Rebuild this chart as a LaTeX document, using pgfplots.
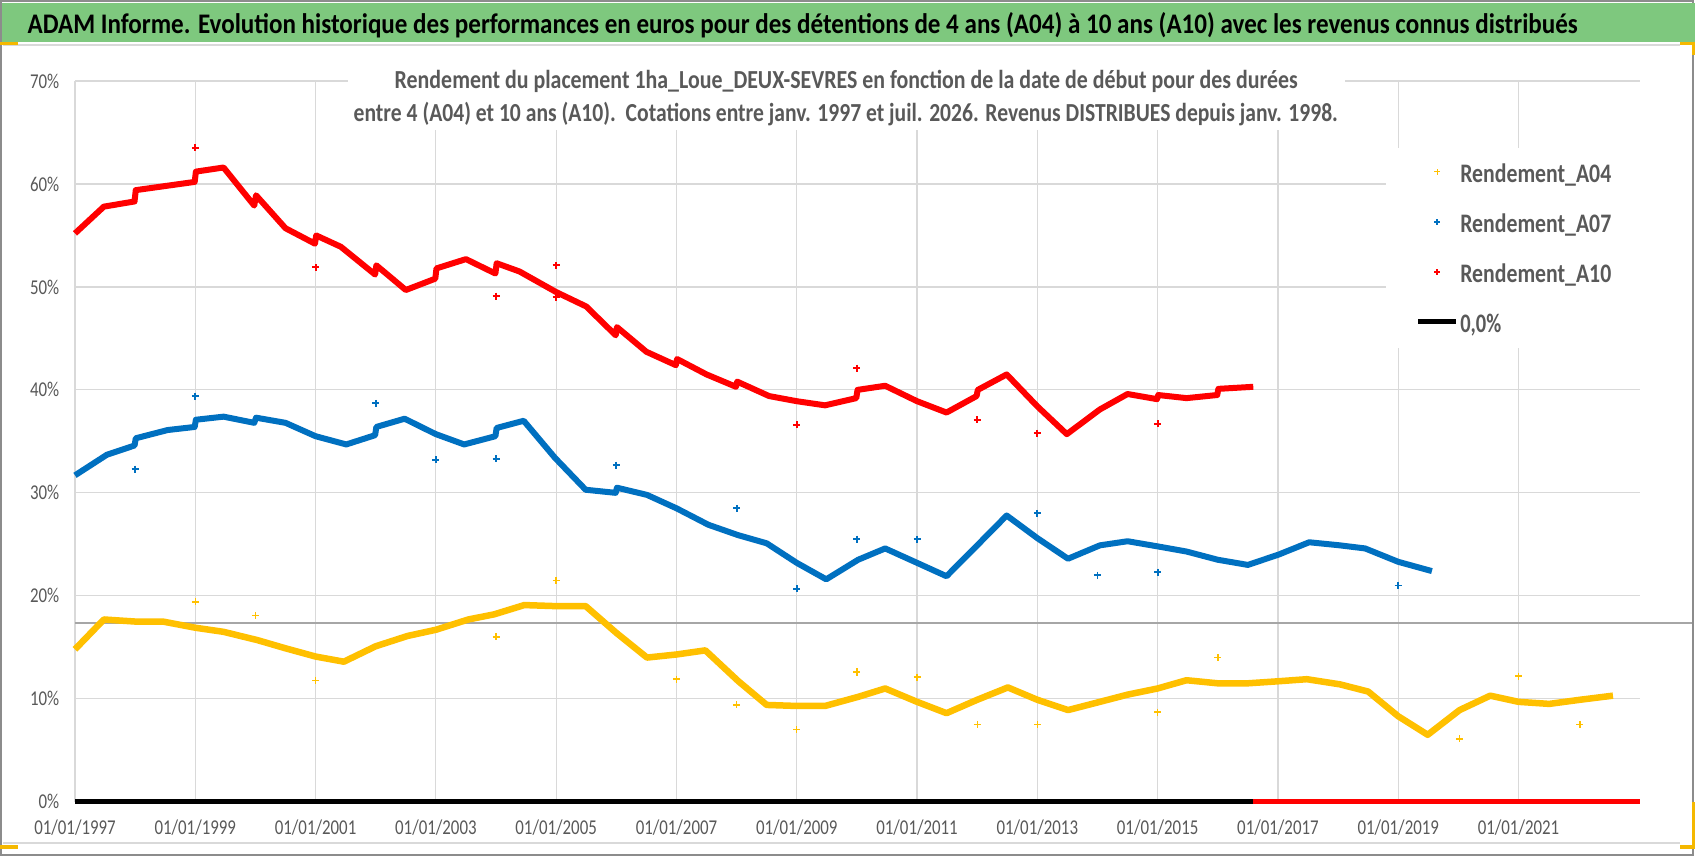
\documentclass[border=0pt]{standalone}
\usepackage{pgfplots}
\pgfplotsset{compat=1.18}
\usepackage{fontspec}
\setmainfont{Carlito}[FakeStretch=0.8]
\usepackage{graphicx}
\definecolor{cA04}{HTML}{FFC000}
\definecolor{cA07}{HTML}{0070C0}
\definecolor{cA10}{HTML}{FF0000}
\definecolor{txtgray}{HTML}{595959}
\definecolor{gridgray}{HTML}{D9D9D9}
\definecolor{banner}{RGB}{126,200,126}
\definecolor{framec}{HTML}{8C8C8C}
\definecolor{handle}{HTML}{F5B800}
\definecolor{midgray}{HTML}{A6A6A6}
\begin{document}
\begin{tikzpicture}
\path[fill=white,use as bounding box] (0,0) rectangle (169.8mm,85.6mm);
\draw[framec,line width=0.2mm] (0.1mm,0.1mm) rectangle (169.25mm,85.5mm);
\fill[banner] (0.2mm,81.4mm) rectangle (169.5mm,85.3mm);
\draw[gridgray,line width=0.15mm] (0.3mm,81.1mm) -- (168mm,81.1mm);
\draw[gridgray,line width=0.15mm] (0.3mm,1.3mm) -- (168mm,1.3mm);
% selection handles
\fill[handle] (0mm,81.15mm) rectangle (1.8mm,81.45mm);
\fill[handle] (168mm,81.1mm) rectangle (169.5mm,81.4mm);
\fill[handle] (169.2mm,80.1mm) rectangle (169.5mm,81.4mm);
\fill[handle] (0mm,0.7mm) rectangle (1.8mm,1.1mm);
\fill[handle] (168mm,0.7mm) rectangle (169.5mm,1.1mm);
\fill[handle] (169.2mm,0.7mm) rectangle (169.5mm,5.4mm);

\begin{axis}[
  at={(7.5mm,5.43mm)}, anchor=south west,
  scale only axis, width=156.5mm, height=72.07mm,
  xmin=1997, xmax=2023.02, ymin=0, ymax=70,
  clip=false,
  axis line style={draw=none}, major tick length=0pt,
  grid=major, major grid style={gridgray, line width=0.12mm},
  xtick={1997,1999,...,2021},
  xticklabels={01/01/1997,01/01/1999,01/01/2001,01/01/2003,01/01/2005,01/01/2007,01/01/2009,01/01/2011,01/01/2013,01/01/2015,01/01/2017,01/01/2019,01/01/2021},
  ytick={0,10,...,70},
  yticklabels={0\%,10\%,20\%,30\%,40\%,50\%,60\%,70\%},
  /pgf/number format/assume math mode=true,
  tick label style={font=\fontsize{6pt}{7pt}\selectfont, text=txtgray, inner sep=0pt},
  xticklabel style={anchor=base, yshift=-3.3mm},
  yticklabel style={anchor=east, xshift=-1.5mm},
  legend style={at={(0.8371,0.9084)}, anchor=north west, draw=none, fill=white,
    inner xsep=3mm, inner ysep=0pt, row sep=0pt,
    font=\fontsize{7.6pt}{9pt}\selectfont\bfseries, text=txtgray,
    nodes={inner sep=0pt, text height=3.5mm, text depth=1.5mm}},
  legend cell align=left,
]
\draw[midgray, line width=0.2mm] (axis cs:1997,17.39) -- (axis cs:2023.89,17.39);

% Rendement_A04
\addplot[forget plot, cA04, line width=0.65mm, line join=round] coordinates {
(1997.0,14.8) (1997.48,17.7) (1998.0,17.5) (1998.46,17.5) (1999.0,16.9) (1999.47,16.5)
(2000.03,15.7) (2000.5,14.9) (2001.0,14.1) (2001.47,13.6) (2002.0,15.1) (2002.53,16.1)
(2003.0,16.7) (2003.54,17.7) (2003.97,18.2) (2004.47,19.1) (2004.98,19.0) (2005.49,19.0)
(2006.0,16.4) (2006.51,14.0) (2007.0,14.3) (2007.48,14.7) (2008.03,11.7) (2008.5,9.4)
(2009.0,9.3) (2009.47,9.3) (2010.03,10.2) (2010.47,11.0) (2011.0,9.7) (2011.49,8.6)
(2012.0,9.9) (2012.51,11.1) (2013.0,9.9) (2013.51,8.9) (2014.04,9.7) (2014.5,10.4)
(2015.0,11.0) (2015.48,11.8) (2016.0,11.5) (2016.5,11.5) (2017.01,11.7) (2017.48,11.9)
(2018.03,11.4) (2018.5,10.7) (2019.0,8.3) (2019.49,6.5) (2020.02,8.9) (2020.53,10.3)
(2021.0,9.7) (2021.51,9.5) (2022.02,9.9) (2022.57,10.3)
};
\addplot[forget plot, only marks, mark=+, mark size=1pt, cA04, mark options={line width=0.4pt}] coordinates {
(1999.0,19.4) (2000.0,18.1) (2001.0,11.8) (2004.0,16.0) (2005.0,21.5) (2007.0,11.9)
(2008.0,9.4) (2009.0,7.0) (2010.0,12.6) (2011.0,12.1) (2012.0,7.5) (2013.0,7.5)
(2015.0,8.7) (2016.0,14.0) (2020.02,6.1) (2021.0,12.2) (2022.02,7.5)
};

% Rendement_A07
\addplot[forget plot, cA07, line width=0.6mm, line join=round] coordinates {
(1997.0,31.7) (1997.53,33.7) (1997.99,34.6) (1998.01,35.3) (1998.54,36.1) (1998.99,36.4)
(1999.01,37.1) (1999.47,37.4) (1999.98,36.8) (2000.01,37.3) (2000.5,36.8) (2001.0,35.5)
(2001.51,34.7) (2001.99,35.6) (2002.01,36.4) (2002.48,37.2) (2003.0,35.7) (2003.47,34.7)
(2003.99,35.5) (2004.01,36.3) (2004.46,37.0) (2004.98,33.4) (2005.49,30.3) (2005.99,30.0)
(2006.01,30.5) (2006.51,29.8) (2007.0,28.5) (2007.53,26.9) (2008.02,25.9) (2008.5,25.1)
(2009.0,23.2) (2009.49,21.6) (2010.02,23.5) (2010.47,24.6) (2011.0,23.2) (2011.49,21.9)
(2012.0,24.9) (2012.49,27.8) (2013.0,25.6) (2013.51,23.6) (2014.04,24.9) (2014.5,25.3)
(2015.0,24.8) (2015.48,24.3) (2016.0,23.5) (2016.5,23.0) (2017.01,24.0) (2017.52,25.2)
(2018.03,24.9) (2018.45,24.6) (2019.0,23.3) (2019.56,22.4)
};
\addplot[forget plot, only marks, mark=+, mark size=1pt, cA07, mark options={line width=0.55pt}] coordinates {
(1998.0,32.3) (1999.0,39.4) (2002.0,38.7) (2003.0,33.2) (2004.0,33.3) (2006.0,32.7)
(2008.0,28.5) (2009.0,20.7) (2010.0,25.5) (2011.0,25.5) (2013.0,28.0) (2014.0,22.0)
(2015.0,22.3) (2019.0,21.0)
};

% Rendement_A10
\addplot[forget plot, cA10, line width=0.6mm, line join=round] coordinates {
(1997.0,55.2) (1997.48,57.8) (1997.99,58.3) (1998.01,59.4) (1998.99,60.2) (1999.01,61.2)
(1999.47,61.6) (1999.98,57.9) (2000.01,58.9) (2000.5,55.7) (2000.99,54.2) (2001.01,55.0)
(2001.42,53.9) (2001.99,51.2) (2002.01,52.1) (2002.5,49.7) (2002.99,50.8) (2003.01,51.8)
(2003.5,52.7) (2003.99,51.3) (2004.01,52.3) (2004.39,51.5) (2005.0,49.5) (2005.5,48.1)
(2005.99,45.3) (2006.01,46.1) (2006.5,43.7) (2006.99,42.4) (2007.01,43.0) (2007.5,41.5)
(2007.99,40.3) (2008.01,40.8) (2008.54,39.4) (2009.0,38.9) (2009.47,38.5) (2009.99,39.2)
(2010.01,40.0) (2010.47,40.4) (2011.0,38.9) (2011.49,37.8) (2011.99,39.4) (2012.01,40.0)
(2012.49,41.5) (2013.0,38.4) (2013.49,35.7) (2014.04,38.1) (2014.5,39.6) (2014.99,39.1)
(2015.01,39.5) (2015.48,39.2) (2015.99,39.5) (2016.01,40.1) (2016.59,40.3)
};
\addplot[forget plot, only marks, mark=+, mark size=1pt, cA10, mark options={line width=0.55pt}] coordinates {
(1999.0,63.5) (2001.0,51.9) (2004.0,49.1) (2005.0,52.1) (2005.0,49.0) (2009.0,36.6)
(2010.0,42.1) (2012.0,37.1) (2013.0,35.8) (2015.0,36.7)
};

% 0,0% reference line and zero values
\addplot[forget plot, black, line width=0.45mm] coordinates {(1997.0,0) (2016.59,0)};
\addplot[forget plot, cA10, line width=0.55mm] coordinates {(2016.59,0) (2023.02,0)};

\addlegendimage{legend image code/.code={\path[draw=none] (0mm,0mm) -- (4.2mm,0mm); \draw[cA04, line width=0.35pt] (1.6mm,0.1mm) -- (2.2mm,0.1mm) (1.9mm,-0.2mm) -- (1.9mm,0.4mm);}}
\addlegendentry{\resizebox{15.1mm}{\height}{Rendement\_A04}}
\addlegendimage{legend image code/.code={\path[draw=none] (0mm,0mm) -- (4.2mm,0mm); \draw[cA07, line width=0.45pt] (1.6mm,0.1mm) -- (2.2mm,0.1mm) (1.9mm,-0.2mm) -- (1.9mm,0.4mm);}}
\addlegendentry{\resizebox{15.1mm}{\height}{Rendement\_A07}}
\addlegendimage{legend image code/.code={\path[draw=none] (0mm,0mm) -- (4.2mm,0mm); \draw[cA10, line width=0.45pt] (1.6mm,0.1mm) -- (2.2mm,0.1mm) (1.9mm,-0.2mm) -- (1.9mm,0.4mm);}}
\addlegendentry{\resizebox{15.1mm}{\height}{Rendement\_A10}}
\addlegendimage{legend image code/.code={\path[draw=none] (0mm,0mm) -- (4.2mm,0mm); \draw[black, line width=0.5mm] (0mm,0.1mm) -- (3.8mm,0.1mm);}}
\addlegendentry{\resizebox{4.1mm}{\height}{0,0\%}}
\end{axis}

% subtitle box
\fill[white] (34.8mm,72.6mm) rectangle (134.5mm,78.7mm);
\node[anchor=base west, inner sep=0pt, text=txtgray, font=\fontsize{7.4pt}{9pt}\selectfont\bfseries] at (39.4mm,76.77mm)
  {\resizebox{90.3mm}{\height}{Rendement du placement 1ha\_Loue\_DEUX-SEVRES en fonction de la date de début pour des durées}};
\node[anchor=base west, inner sep=0pt, text=txtgray, font=\fontsize{7.4pt}{9pt}\selectfont\bfseries] at (35.3mm,73.5mm)
  {\resizebox{98.4mm}{\height}{entre 4 (A04) et 10 ans (A10).\ \ Cotations entre janv. 1997 et juil. 2026. Revenus DISTRIBUES depuis janv. 1998.}};
% title
\node[anchor=base west, inner sep=0pt, text=black, font=\fontsize{8.07pt}{9.5pt}\selectfont\bfseries] at (2.7mm,82.3mm)
  {\resizebox{155mm}{\height}{ADAM Informe. Evolution historique des performances en euros pour des détentions de 4 ans (A04) à 10 ans (A10) avec les revenus connus distribués}};
\end{tikzpicture}
\end{document}
